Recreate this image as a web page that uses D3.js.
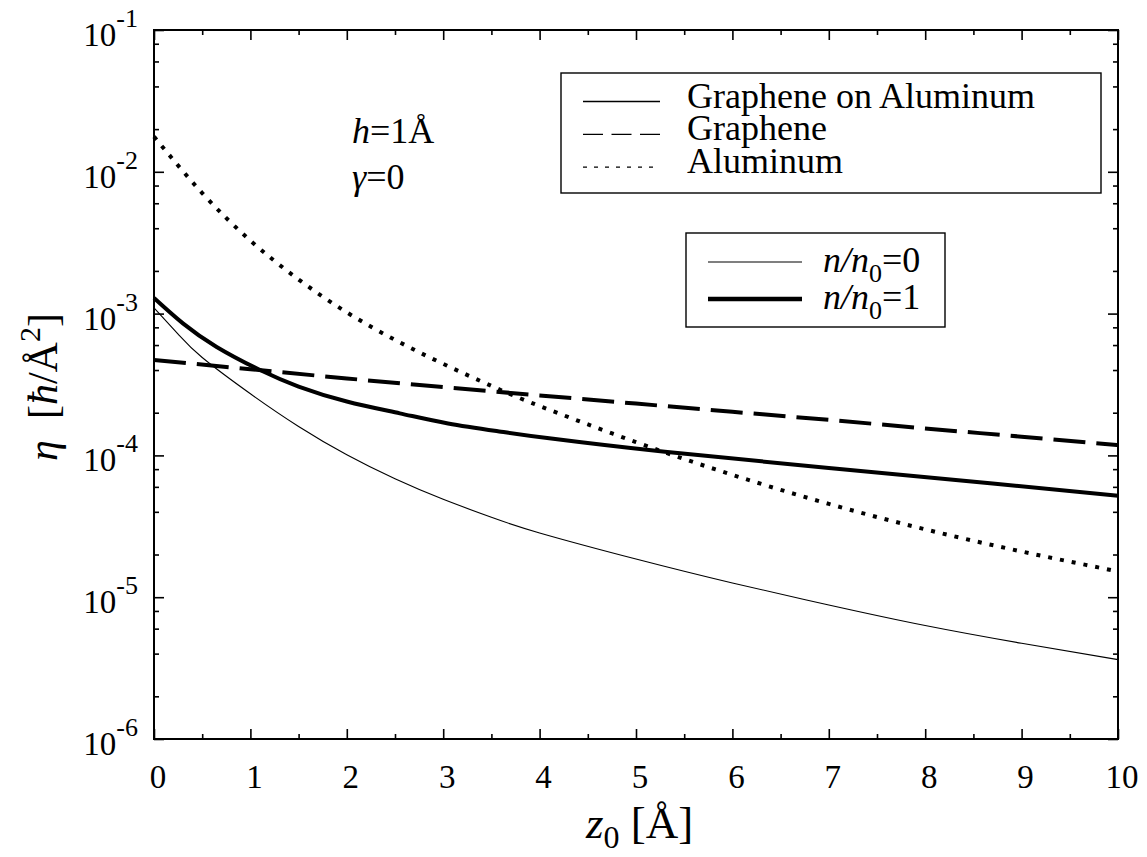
<!doctype html>
<html>
<head>
<meta charset="utf-8">
<title>eta vs z0</title>
<script src="https://d3js.org/d3.v7.min.js"></script>
<style>
  body { margin: 0; background: #fff; }
</style>
</head>
<body>
<div id="chart"></div>
<script>
// values (eta in hbar/A^2, z0 in A)
var zOnAl0 = [0, 0.25, 0.5, 1, 1.5, 2, 2.5, 3, 3.5, 4, 5, 6, 7, 8, 9, 10];
var etaOnAl0 = [1.096e-3, 7.16e-4, 4.90e-4, 2.72e-4, 1.60e-4, 1.01e-4, 6.84e-5, 4.90e-5, 3.66e-5, 2.84e-5, 1.86e-5, 1.26e-5, 8.81e-6, 6.31e-6, 4.73e-6, 3.63e-6];

var zOnAl1 = [0, 0.3, 0.65, 1.1, 1.5, 2, 2.55, 3.05, 3.6, 4.1, 5.3, 7, 8.7, 10];
var etaOnAl1 = [1.288e-3, 8.53e-4, 5.82e-4, 4.00e-4, 3.06e-4, 2.40e-4, 1.98e-4, 1.68e-4, 1.47e-4, 1.32e-4, 1.06e-4, 8.15e-5, 6.34e-5, 5.19e-5];

var zGraphene = [0, 1, 2, 3, 4, 5, 6, 7, 8, 9, 10];
var etaGraphene = [4.71e-4, 4.05e-4, 3.49e-4, 3.03e-4, 2.65e-4, 2.32e-4, 2.03e-4, 1.78e-4, 1.55e-4, 1.355e-4, 1.18e-4];

var zAluminum = [0, 0.5, 1, 1.5, 2, 2.5, 3, 3.5, 4, 5, 6, 7, 8, 9, 10];
var etaAluminum = [1.77e-2, 7.08e-3, 3.27e-3, 1.74e-3, 1.02e-3, 6.53e-4, 4.42e-4, 3.09e-4, 2.23e-4, 1.24e-4, 7.29e-5, 4.55e-5, 3.01e-5, 2.10e-5, 1.52e-5];

var xTicks = [0, 1, 2, 3, 4, 5, 6, 7, 8, 9, 10];
var yTickExp = [-1, -2, -3, -4, -5, -6];

var width = 1147, height = 857;
var FONT = "Liberation Serif";

var svg = d3.select("#chart").append("svg")
    .attr("width", width)
    .attr("height", height);

// every label goes through here so the serif face sticks
function label(x0, y0, size){
  return svg.append("text")
      .attr("x", x0).attr("y", y0)
      .attr("font-size", size)
      .attr("fill", "#000")
      .style("font-family", FONT);
}

var x = d3.scaleLinear().domain([0, 10]).range([154, 1118]);
var y = d3.scaleLog().domain([1e-6, 1e-1]).range([739, 30]);

// minor ticks: halves on x, 2,4,6,8 per decade on y
var xMinor = xTicks.slice(0, -1).map(function(d){ return d + 0.5; });
var yMajor = yTickExp.map(function(e){ return Math.pow(10, e); });
var yMinor = [];
yMajor.slice(0, -1).forEach(function(p){
  [2, 4, 6, 8].forEach(function(m){ yMinor.push(m * p / 10); });
});

function tickAxis(axis, vals, size, tr){
  var g = svg.append("g")
      .attr("transform", tr)
      .call(axis.tickValues(vals).tickSize(size).tickFormat(""));
  g.select(".domain").remove();
  g.selectAll(".tick line").attr("stroke", "#000").attr("stroke-width", 1.6);
}

tickAxis(d3.axisBottom(x), xTicks, -10, "translate(0,739)");
tickAxis(d3.axisBottom(x), xMinor, -5, "translate(0,739)");
tickAxis(d3.axisTop(x), xTicks, -10, "translate(0,30)");
tickAxis(d3.axisTop(x), xMinor, -5, "translate(0,30)");
tickAxis(d3.axisLeft(y), yMajor, -10, "translate(154,0)");
tickAxis(d3.axisLeft(y), yMinor, -5, "translate(154,0)");
tickAxis(d3.axisRight(y), yMajor, -10, "translate(1118,0)");
tickAxis(d3.axisRight(y), yMinor, -5, "translate(1118,0)");

// frame
svg.append("rect")
    .attr("x", 154).attr("y", 30)
    .attr("width", 1118 - 154).attr("height", 739 - 30)
    .attr("fill", "none").attr("stroke", "#000").attr("stroke-width", 2);

// tick labels
xTicks.forEach(function(d){
  label(x(d) + 4, 788, 33).attr("text-anchor", "middle").text(d);
});

yTickExp.forEach(function(e){
  var t = label(138, y(Math.pow(10, e)) + 16, 33).attr("text-anchor", "end");
  t.append("tspan").text("10");
  t.append("tspan").attr("font-size", 26).attr("dy", -19).text("-" + (-e));
});

// curves
var line = d3.line()
    .x(function(d){ return x(d[0]); })
    .y(function(d){ return y(d[1]); })
    .curve(d3.curveNatural);

function curve(zs, etas, w, dash){
  svg.append("path")
      .datum(d3.zip(zs, etas))
      .attr("d", line)
      .attr("fill", "none")
      .attr("stroke", "#000")
      .attr("stroke-width", w)
      .attr("stroke-dasharray", dash);
}

curve(zAluminum, etaAluminum, 4, "4,8");
curve(zGraphene, etaGraphene, 4, "32,11");
curve(zOnAl0, etaOnAl0, 1.1, null);
curve(zOnAl1, etaOnAl1, 4, null);

// legend 1: materials
svg.append("rect")
    .attr("x", 561).attr("y", 73).attr("width", 540).attr("height", 120)
    .attr("fill", "#fff").attr("stroke", "#000").attr("stroke-width", 1.4);

var leg1 = [
  {label: "Graphene on Aluminum", dash: null},
  {label: "Graphene", dash: "20,8.5"},
  {label: "Aluminum", dash: "4,7"}
];
leg1.forEach(function(d, i){
  var ly = 101.5 + i * 32.8;
  svg.append("line")
      .attr("x1", 583).attr("x2", 660).attr("y1", ly).attr("y2", ly)
      .attr("stroke", "#000").attr("stroke-width", 1.3)
      .attr("stroke-dasharray", d.dash);
  label(687, ly + 6, 36).text(d.label);
});

// legend 2: density
svg.append("rect")
    .attr("x", 686).attr("y", 233).attr("width", 259).attr("height", 94)
    .attr("fill", "#fff").attr("stroke", "#000").attr("stroke-width", 1.4);

[{v: "0", w: 1.2}, {v: "1", w: 4.5}].forEach(function(d, i){
  var ly = 262 + i * 37;
  svg.append("line")
      .attr("x1", 708).attr("x2", 802).attr("y1", ly).attr("y2", ly)
      .attr("stroke", "#000").attr("stroke-width", d.w);
  var t = label(823, ly + 10, 36);
  t.append("tspan").attr("font-style", "italic").text("n/n");
  t.append("tspan").attr("font-size", 26).attr("dy", 10).text("0");
  t.append("tspan").attr("dy", -10).text("=" + d.v);
});

// annotation
var a1 = label(352, 143, 36);
a1.append("tspan").attr("font-style", "italic").text("h");
a1.append("tspan").text("=1\u00c5");
var a2 = label(352, 189, 36);
a2.append("tspan").attr("font-style", "italic").text("\u03b3");
a2.append("tspan").text("=0");

// axis titles
var xt = label(586, 838, 45);
xt.append("tspan").attr("font-style", "italic").text("z");
xt.append("tspan").attr("font-size", 32).attr("dy", 10).text("0");
xt.append("tspan").attr("dy", -10).text("\u00a0[\u00c5]");

var yt = label(0, 0, 42)
    .attr("transform", "translate(57,387) rotate(-90)")
    .attr("text-anchor", "middle");
yt.append("tspan").attr("font-style", "italic").text("\u03b7");
yt.append("tspan").text("\u00a0\u00a0[");
yt.append("tspan").attr("font-style", "italic").text("\u0127");
yt.append("tspan").text("/\u00c5");
yt.append("tspan").attr("font-size", 30).attr("dy", -17).text("2");
yt.append("tspan").attr("dy", 17).text("]");
</script>
</body>
</html>
